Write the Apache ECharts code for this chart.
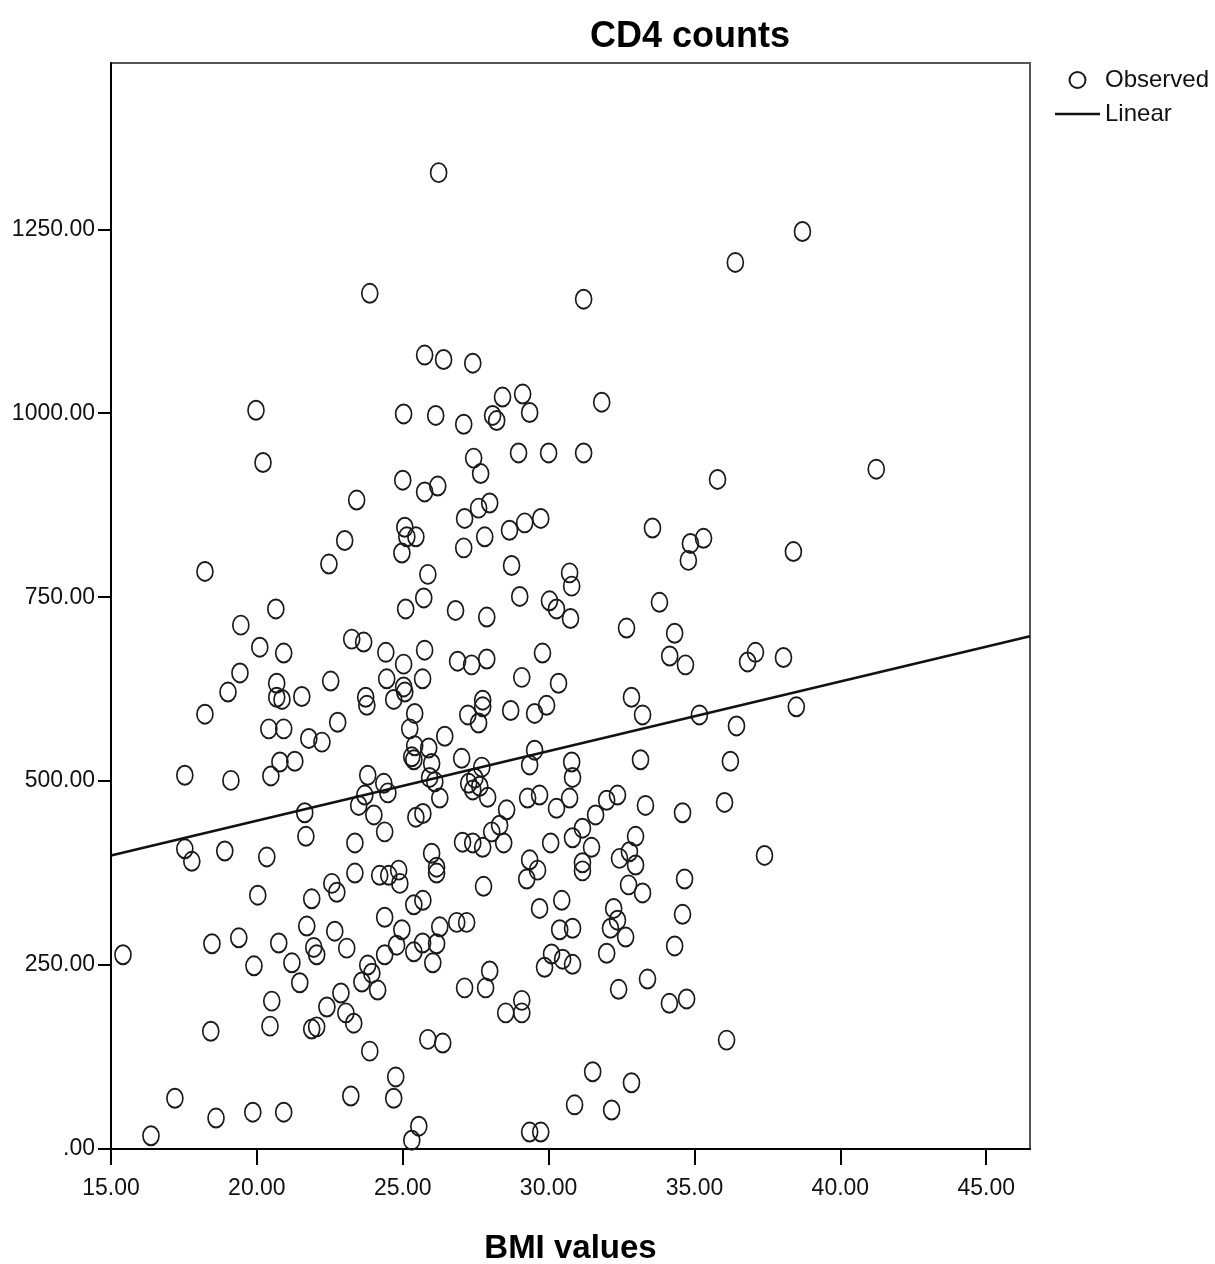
<!DOCTYPE html>
<html>
<head>
<meta charset="utf-8">
<script src="https://cdn.jsdelivr.net/npm/echarts@6/dist/echarts.min.js"></script>
<style>
  html, body { margin: 0; padding: 0; background: #fff; }
  #myCharts { width: 1215px; height: 1264px; }
</style>
</head>
<body>
<div id="myCharts"></div>
<script>
// BMI (x) and CD4 count (y), one entry per observed case
var bmiValues = [
  26.23, 38.70, 36.40, 23.87, 31.20, 25.75, 26.40, 27.40, 28.42, 29.11, 31.82, 19.97, 25.03, 26.13, 28.08, 29.35,
  28.22, 27.09, 28.97, 30.00, 31.20, 20.21, 27.43, 41.23, 27.67, 35.79, 25.00, 26.20, 25.75, 23.42, 27.98, 27.60,
  27.12, 29.73, 29.18, 33.56, 25.07, 28.66, 27.81, 25.14, 25.45, 23.01, 35.31, 34.86, 27.09, 38.39, 24.97, 34.79,
  22.47, 28.73, 18.22, 30.72, 25.86, 30.79, 29.01, 25.72, 30.03, 33.80, 30.27, 25.10, 20.65, 26.81, 30.75, 27.88,
  19.45, 32.67, 34.32, 23.25, 23.66, 20.10, 24.42, 20.92, 25.75, 29.79, 34.15, 26.88, 27.36, 27.88, 25.03, 37.09,
  36.82, 38.05, 34.69,
  19.42, 22.53, 24.45, 19.01, 20.68, 20.68, 20.86, 21.54, 25.03, 25.07, 24.69, 23.73, 23.77, 18.22, 22.77, 25.41,
  20.41, 20.92, 25.24, 21.78, 22.23, 25.41, 25.31, 25.38, 20.79, 21.30, 17.53, 19.11, 20.48, 23.80, 24.35, 24.49,
  23.70, 23.49,
  25.68, 29.08, 30.34, 32.84, 33.22, 35.17, 27.74, 27.74, 27.23, 27.60, 28.70, 29.52, 29.93, 26.44, 25.89, 25.99,
  27.02, 27.71, 29.52, 29.35, 30.79, 30.82, 33.15, 25.92, 26.10, 27.26, 27.47, 27.40, 27.64, 26.27, 27.91, 29.28,
  29.69, 30.72, 31.99, 32.36,
  38.49, 36.44, 36.23, 36.03,
  21.64, 24.01, 24.38, 17.53, 17.77, 18.90, 20.34, 21.68, 23.36, 25.45, 25.69, 20.03, 21.88, 22.57, 22.74, 23.36,
  24.21, 24.52, 24.86, 24.90, 25.38, 24.38, 24.97, 24.79, 25.38, 24.38, 23.80, 23.94, 23.60, 24.14, 21.71, 22.67,
  23.08, 21.95, 22.05, 20.75, 21.20, 21.47, 19.90, 18.46, 19.38, 15.41, 20.51, 20.45, 18.42, 22.40, 22.88, 23.05,
  23.32, 21.88, 22.05, 23.87, 24.76, 24.69, 23.22, 17.19, 18.60, 19.86, 20.92, 16.37, 25.31, 25.55,
  28.56, 30.27, 31.61, 33.32, 34.59, 25.99, 26.16, 26.16, 27.05, 27.40, 27.74, 28.05, 28.32, 28.46, 30.07, 30.82,
  31.16, 31.47, 31.16, 31.16, 32.43, 32.77, 32.98, 32.98, 29.35, 29.62, 29.25, 27.77, 32.74, 33.22, 34.66, 34.59,
  34.32, 25.69, 29.69, 30.45, 32.23, 32.36, 32.12, 32.64, 31.99, 26.27, 26.16, 25.68, 26.03, 26.85, 27.19, 30.38,
  30.82, 30.10, 30.48, 30.82, 29.86, 27.98, 27.84, 27.12, 29.08, 29.08, 28.53, 32.40, 33.39, 34.14, 34.73, 25.86,
  26.37, 36.10, 31.51, 32.84, 30.89, 32.16, 29.35, 29.73,
  37.40
];
var cd4Values = [
  1327, 1247, 1205, 1163, 1155, 1079, 1073, 1068, 1022, 1026, 1015, 1004, 999, 997, 997, 1001,
  990, 985, 946, 946, 946, 933, 939, 924, 918, 910, 909, 901, 893, 882, 878, 871,
  857, 857, 851, 844, 845, 841, 832, 832, 832, 827, 830, 823, 817, 812, 810, 800,
  795, 793, 785, 783, 781, 765, 751, 749, 745, 743, 734, 734, 734, 732, 721, 723,
  712, 708, 701, 693, 689, 682, 675, 674, 678, 674, 670, 663, 658, 666, 659, 675,
  662, 668, 658,
  647, 636, 639, 621, 633, 614, 611, 615, 628, 621, 611, 614, 603, 591, 580, 592,
  571, 571, 571, 558, 553, 548, 533, 529, 526, 527, 508, 501, 507, 508, 497, 484,
  481, 467,
  639, 641, 633, 614, 590, 590, 610, 601, 590, 579, 596, 592, 603, 561, 545, 524,
  531, 519, 542, 522, 526, 505, 529, 505, 499, 497, 504, 488, 493, 477, 478, 477,
  481, 477, 474, 481,
  601, 575, 527, 471,
  457, 454, 431, 408, 391, 405, 397, 425, 416, 451, 456, 345, 340, 361, 349, 375,
  372, 372, 379, 361, 332, 315, 298, 277, 268, 264, 250, 239, 227, 216, 303, 296,
  273, 274, 264, 280, 253, 226, 249, 279, 287, 264, 201, 167, 160, 193, 212, 185,
  171, 163, 166, 133, 98, 69, 72, 69, 42, 50, 50, 18, 12, 31,
  461, 463, 454, 467, 457, 402, 383, 375, 417, 416, 410, 431, 440, 416, 416, 423,
  436, 410, 389, 378, 395, 404, 425, 386, 393, 379, 367, 357, 359, 348, 367, 319,
  276, 338, 327, 338, 327, 311, 300, 288, 266, 302, 279, 280, 253, 308, 308, 298,
  300, 265, 258, 251, 247, 242, 219, 219, 202, 185, 185, 217, 231, 198, 204, 149,
  144, 148, 105, 90, 60, 53, 23, 23,
  399
];
// fitted linear trend, end points at the edges of the x range
var fitBmi = [15, 46.5];
var fitCd4 = [399, 697];
var xTicks = [15, 20, 25, 30, 35, 40, 45];
var yTicks = [0, 250, 500, 750, 1000, 1250];

var FONT = '"Liberation Sans", Arial, sans-serif';

var observed = bmiValues.map(function (b, i) { return [b, cd4Values[i]]; });
var linear = fitBmi.map(function (b, i) { return [b, fitCd4[i]]; });

var option = {
  backgroundColor: '#fff',
  animation: false,
  title: {
    text: 'CD4 counts',
    left: 585,
    top: 14,
    textStyle: { fontFamily: FONT, fontSize: 36, fontWeight: 'bold', color: '#000' }
  },
  legend: {
    orient: 'vertical',
    left: 1055,
    top: 68,
    padding: 0,
    itemWidth: 45,
    itemHeight: 16,
    itemGap: 10,
    textStyle: { fontFamily: FONT, fontSize: 24, color: '#111' },
    data: [
      { name: 'Observed' },
      { name: 'Linear', icon: 'path://M0,0L100,0L100,6L0,6Z', itemStyle: { color: '#111' } }
    ]
  },
  grid: {
    left: 111,
    right: 185,
    top: 63,
    bottom: 115,
    outerBoundsMode: 'none',
    show: true,
    borderColor: '#555',
    borderWidth: 2
  },
  xAxis: {
    type: 'value',
    min: 15,
    max: 46.5,
    name: 'BMI values',
    nameLocation: 'middle',
    nameGap: 83,
    nameTextStyle: { fontFamily: FONT, fontSize: 33, fontWeight: 'bold', color: '#000' },
    axisLine: { show: true, lineStyle: { color: '#000', width: 2 } },
    axisTick: { show: true, length: 16, customValues: xTicks, lineStyle: { color: '#000', width: 2 } },
    axisLabel: {
      customValues: xTicks,
      margin: 28,
      fontFamily: FONT,
      fontSize: 23,
      color: '#111',
      formatter: function (v) { return v.toFixed(2); }
    },
    splitLine: { show: false }
  },
  yAxis: {
    type: 'value',
    min: 0,
    max: 1476,
    axisLine: { show: true, lineStyle: { color: '#000', width: 2 } },
    axisTick: { show: true, length: 13, customValues: yTicks, lineStyle: { color: '#000', width: 2 } },
    axisLabel: {
      customValues: yTicks,
      margin: 16,
      fontFamily: FONT,
      fontSize: 23,
      color: '#111',
      formatter: function (v) { return v === 0 ? '.00' : v.toFixed(2); }
    },
    splitLine: { show: false }
  },
  series: [
    {
      name: 'Observed',
      type: 'scatter',
      symbol: 'circle',
      symbolSize: [16, 19],
      itemStyle: { color: 'rgba(0,0,0,0)', borderColor: '#1a1a1a', borderWidth: 1.8, opacity: 1 },
      data: observed,
      z: 3
    },
    {
      name: 'Linear',
      type: 'line',
      symbol: 'none',
      lineStyle: { color: '#111', width: 2.5 },
      itemStyle: { color: '#111' },
      data: linear,
      z: 4
    }
  ]
};

var myChart = echarts.init(document.getElementById('myCharts'));
myChart.setOption(option);
</script>
</body>
</html>
